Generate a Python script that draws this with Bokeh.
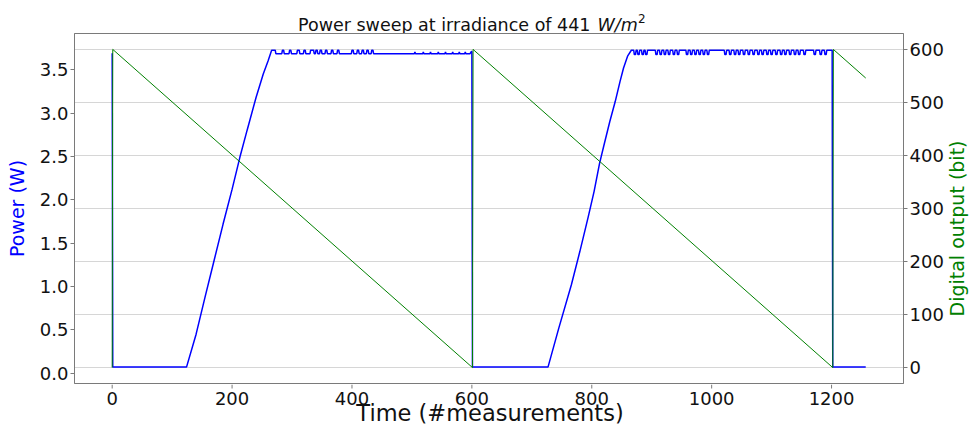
import math

from bokeh.plotting import figure
from bokeh.layouts import column, row
from bokeh.models import (Range1d, LinearAxis, FixedTicker, Grid, Label,
                          PrintfTickFormatter, ColumnDataSource)
from bokeh.core.properties import value
from bokeh.embed import file_html
from bokeh.resources import INLINE

FONT = "DejaVu Sans"

# ---- digital output command (bit): corner points of the sawtooth ----
DIG_T = [0, 1, 601, 602, 1202, 1203, 1257]
DIG_BIT = [0, 600, 0, 600, 0, 600, 546]

# ---- measured power (W) ----
P_START = 3.69

# first sweep: off, then rising with the command
RAMP1_T = [1, 124, 140, 155, 170, 185, 200, 213, 225, 240, 252, 260, 266, 272]
RAMP1_W = [0.07, 0.07, 0.45, 0.88, 1.30, 1.72, 2.12, 2.49, 2.80, 3.18, 3.45, 3.60, 3.725, 3.725]

# first saturated plateau: base level with short upward flickers
PLAT1_BASE = 3.685
PLAT1_PEAK = 3.725
PLAT1_BLIP = 3.705
PLAT1_PEAKS = [(284, 286), (296, 298), (309, 312), (320, 322), (331, 336), (340, 342),
               (347, 349), (356, 358), (366, 368), (376, 378), (400, 402), (409, 411),
               (417, 419), (425, 427), (433, 435)]
PLAT1_BLIPS = [(505, 505), (519, 519), (531, 531), (544, 544), (556, 556), (568, 568),
               (579, 579), (589, 589)]
PLAT1_END_T = [597, 599, 600]
PLAT1_END_W = [3.685, 3.71, 3.71]

# second sweep
RAMP2_T = [601, 727, 745, 766, 780, 794, 804, 813, 820, 830, 839, 847, 853, 860, 866]
RAMP2_W = [0.07, 0.07, 0.52, 1.02, 1.40, 1.80, 2.10, 2.42, 2.62, 2.90, 3.13, 3.36, 3.52, 3.66, 3.725]

# second saturated plateau: top level with short downward dips
PLAT2_TOP = 3.725
PLAT2_DIP = 3.675
PLAT2_DIPS = [(871, 873), (877, 879), (884, 886), (890, 892), (907, 909), (914, 916),
              (921, 923), (928, 930), (936, 938), (943, 945), (958, 960), (965, 967),
              (972, 974), (979, 981), (986, 988), (993, 995),
              (1022, 1024), (1030, 1032), (1038, 1040), (1045, 1047), (1053, 1055),
              (1061, 1063), (1069, 1071), (1077, 1079), (1084, 1086), (1092, 1094),
              (1099, 1101), (1107, 1109), (1115, 1117), (1122, 1124), (1130, 1132),
              (1138, 1140), (1145, 1147),
              (1154, 1156), (1171, 1173), (1181, 1183), (1189, 1191)]
TAIL_T = [1201, 1202, 1257]
TAIL_W = [3.725, 0.07, 0.07]

X_TICKS = [0, 200, 400, 600, 800, 1000, 1200]
X_TICK_LABELS = ["0", "200", "400", "600", "800", "1000", "1200"]
P_TICKS = [0.0, 0.5, 1.0, 1.5, 2.0, 2.5, 3.0, 3.5]
D_TICKS = [0, 100, 200, 300, 400, 500, 600]


def pulses(intervals, level, alt):
    """Corner points for short excursions from `level` to `alt`."""
    t, w = [], []
    for a, b in intervals:
        t += [a - 1, a, b, b + 1]
        w += [level, alt, alt, level]
    return t, w


power_t = [0] + RAMP1_T + [273]
power_w = [P_START] + RAMP1_W + [PLAT1_BASE]
for ivs, alt in ((PLAT1_PEAKS, PLAT1_PEAK), (PLAT1_BLIPS, PLAT1_BLIP)):
    t, w = pulses(ivs, PLAT1_BASE, alt)
    power_t += t
    power_w += w
power_t += PLAT1_END_T + RAMP2_T
power_w += PLAT1_END_W + RAMP2_W
t, w = pulses(PLAT2_DIPS, PLAT2_TOP, PLAT2_DIP)
power_t += t + TAIL_T
power_w += w + TAIL_W

power_src = ColumnDataSource(data=dict(t=power_t, w=power_w))
dig_src = ColumnDataSource(data=dict(t=DIG_T, bit=DIG_BIT))
xtick_src = ColumnDataSource(data=dict(t=X_TICKS, label=X_TICK_LABELS))

SPINE = "#7a7a7a"
INK = "#111111"

X_RANGE = Range1d(-62.85, 1320)


def text_strip(width, height, x_range=None, left=0, right=0):
    """Bare canvas used to hold free-standing text."""
    f = figure(width=width, height=height,
               x_range=x_range if x_range is not None else Range1d(0, width),
               y_range=Range1d(0, height), output_backend="svg",
               toolbar_location=None, x_axis_type=None, y_axis_type=None,
               min_border=0, min_border_left=left, min_border_right=right,
               title=None)
    f.xgrid.visible = False
    f.ygrid.visible = False
    f.outline_line_color = None
    f.background_fill_color = "white"
    f.border_fill_color = "white"
    return f


# ---------------- main chart ----------------
p = figure(width=946, height=351,
           x_range=X_RANGE, y_range=Range1d(-0.119, 3.918),
           output_backend="svg", toolbar_location=None, title=None,
           x_axis_location=None,
           min_border_left=74, min_border_right=41,
           min_border_top=0, min_border_bottom=1)
p.background_fill_color = "white"
p.border_fill_color = "white"
p.outline_line_color = SPINE
p.outline_line_width = 1

yax = p.yaxis[0]
yax.ticker = FixedTicker(ticks=P_TICKS)
yax.formatter = PrintfTickFormatter(format="%.1f")

p.extra_y_ranges = {"dig": Range1d(-30, 630)}
ax2 = LinearAxis(y_range_name="dig", ticker=FixedTicker(ticks=D_TICKS))
p.add_layout(ax2, "right")

p.xgrid.visible = False
p.ygrid.visible = False
p.add_layout(Grid(dimension=1, axis=ax2, y_range_name="dig",
                  grid_line_color="#d6d6d6", grid_line_width=1))

for ax in (yax, ax2):
    ax.axis_line_color = SPINE
    ax.major_tick_line_color = SPINE
    ax.major_tick_in = 0
    ax.major_tick_out = 4
    ax.minor_tick_line_color = None
    ax.major_label_text_font = FONT
    ax.major_label_text_font_size = "18px"
    ax.major_label_text_color = INK
    ax.major_label_standoff = 2
    ax.axis_label_text_font = FONT
    ax.axis_label_text_font_style = "normal"

yax.axis_label = "Power (W)"
yax.axis_label_text_font_size = "19px"
yax.axis_label_text_color = "#0000ff"
yax.axis_label_standoff = 9

p.line("t", "w", source=power_src, line_color="#0000ff", line_width=1.5)
p.line("t", "bit", source=dig_src, line_color="#008000", line_width=1,
       y_range_name="dig")

# ---------------- strip below: time ticks, tick labels and x title ----------------
foot = text_strip(946, 40, x_range=X_RANGE, left=74, right=41)
foot.segment(x0="t", y0=40, x1="t", y1=36, source=xtick_src,
             line_color=SPINE, line_width=1)
foot.text(x="t", y=26.25, text="label", source=xtick_src,
          text_font=value(FONT), text_font_size="18px", text_color=INK,
          text_align="center", text_baseline="alphabetic")
foot.add_layout(Label(x=415.5, y=12, x_units="screen", y_units="data",
                      text="Time (#measurements)", text_font=FONT,
                      text_font_size="22.5px", text_color=INK,
                      text_baseline="alphabetic", text_align="center"))

# ---------------- title strip ----------------
head = text_strip(971, 33)
head.add_layout(Label(x=297.5, y=9, text="Power sweep at irradiance of 441",
                      text_font=FONT, text_font_size="17.5px", text_color=INK,
                      text_baseline="alphabetic", text_align="left"))
head.add_layout(Label(x=597, y=9, text="W/m", text_font=FONT,
                      text_font_style="italic", text_font_size="17.5px",
                      text_color=INK, text_baseline="alphabetic", text_align="left"))
head.add_layout(Label(x=637.5, y=15.3, text="2", text_font=FONT,
                      text_font_size="12px", text_color=INK,
                      text_baseline="alphabetic", text_align="left"))

# ---------------- right axis title strip ----------------
side = text_strip(25, 391)
side.add_layout(Label(x=10, y=196, text="Digital output (bit)", angle=math.pi / 2,
                      text_font=FONT, text_font_size="19px", text_color="#008000",
                      text_baseline="middle", text_align="center"))

layout = column(head, row(column(p, foot, spacing=0), side, spacing=0), spacing=0)

open("out.html", "w").write(file_html(layout, INLINE))
